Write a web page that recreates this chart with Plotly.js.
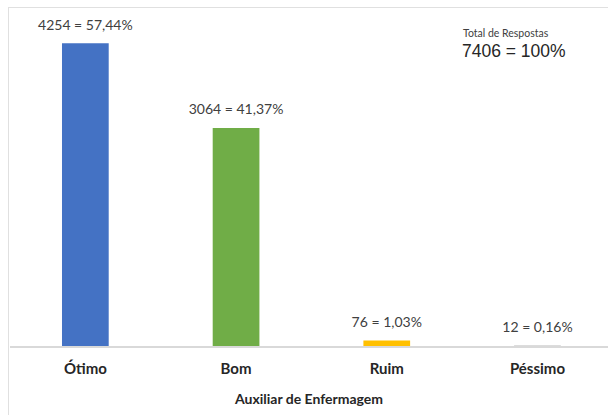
<!DOCTYPE html>
<html>
<head>
<meta charset="utf-8">
<script src="https://cdn.plot.ly/plotly-3.0.1.min.js"></script>
<style>
html,body{margin:0;padding:0;background:#fff;overflow:hidden;}
#wrap{position:relative;width:608px;height:415px;}
#chart{width:608px;height:415px;}
#frame{position:absolute;left:8px;top:7px;width:610px;height:420px;border-top:1.5px solid #e0e0e0;border-left:1.5px solid #e0e0e0;pointer-events:none;}
</style>
</head>
<body>
<div id="wrap"><div id="chart"></div><div id="frame"></div></div>
<script>
const categories = ["Ótimo", "Bom", "Ruim", "Péssimo"];
const counts = [4254, 3064, 76, 12];
const percents = ["57,44%", "41,37%", "1,03%", "0,16%"];
const colors = ["#4472C4", "#70AD47", "#FFC000", "#d0d0d0"];
const totalLabel = "Total de Respostas";
const totalValue = "7406 = 100%";
const axisTitle = "Auxiliar de Enfermagem";

const yMax = 4750;
const labelLift = 240; // value-label offset in axis units (about 17 px)

const bars = {
  type: "bar",
  x: categories,
  y: counts,
  marker: {color: colors, line: {width: 0}},
  hoverinfo: "none",
  showlegend: false
};

const labels = {
  type: "scatter",
  mode: "text",
  x: categories,
  y: counts,
  yaxis: "y2",
  text: counts.map((v, i) => v + " = " + percents[i]),
  textposition: "middle center",
  textfont: {family: "Lato, sans-serif", size: 14, color: "#404040"},
  hoverinfo: "none",
  showlegend: false,
  cliponaxis: false
};

const annotations = [
  {xref: "paper", yref: "paper", x: 0.7545, y: 0.927, xanchor: "left", yanchor: "middle",
   text: totalLabel, showarrow: false,
   font: {family: "Lato, sans-serif", size: 10.5, color: "#404040"}},
  {xref: "paper", yref: "paper", x: 0.753, y: 0.872, xanchor: "left", yanchor: "middle",
   text: totalValue, showarrow: false,
   font: {family: "Liberation Sans, Arial, sans-serif", size: 17.5, color: "#262626"}}
];

const layout = {
  width: 608, height: 415,
  margin: {l: 10, r: 0, t: 8, b: 69, pad: 0},
  paper_bgcolor: "#ffffff", plot_bgcolor: "#ffffff",
  bargap: 0.69,
  xaxis: {
    range: [-0.5, 3.468],
    showline: true, linecolor: "#d9d9d9", linewidth: 1.5,
    ticks: "", showgrid: false, zeroline: false,
    ticklabelstandoff: 8,
    tickfont: {family: "Lato, sans-serif", size: 15, color: "#262626", weight: "bold"},
    title: {text: "<b>" + axisTitle + "</b>", standoff: 18,
            font: {family: "Lato, sans-serif", size: 14, color: "#262626"}}
  },
  yaxis: {range: [0, yMax], visible: false, showgrid: false, zeroline: false, fixedrange: true},
  yaxis2: {range: [-labelLift, yMax - labelLift], overlaying: "y", visible: false,
           showgrid: false, zeroline: false, fixedrange: true},
  annotations: annotations
};

Plotly.newPlot("chart", [bars, labels], layout, {displayModeBar: false, staticPlot: true});
</script>
</body>
</html>
